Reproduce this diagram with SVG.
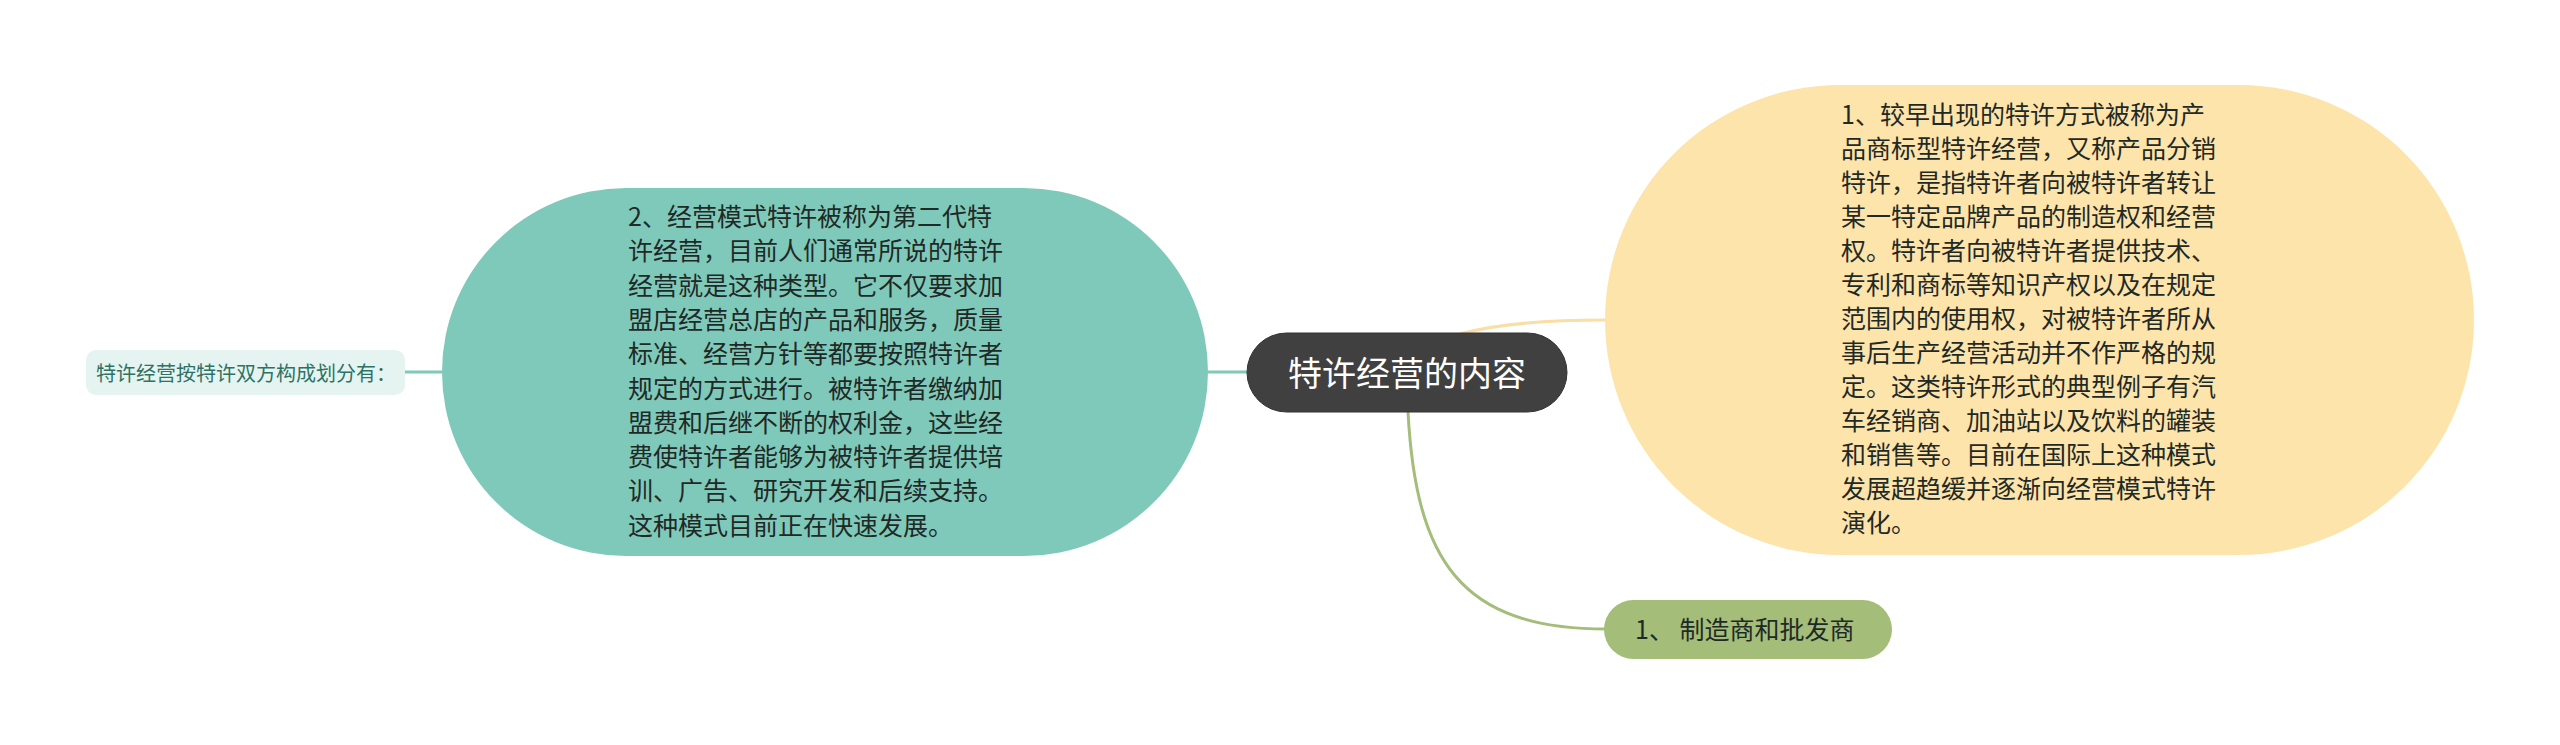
<svg xmlns="http://www.w3.org/2000/svg" width="2560" height="745" viewBox="0 0 2560 745">
<style>
text { font-family: "Noto Sans CJK SC", "Liberation Sans", sans-serif; }
.body { font-size: 25px; fill: #1f2a27; }
.conn { fill: none; stroke-width: 3; }
</style>
<rect width="2560" height="745" fill="#ffffff"/>
<g id="connectors">
  <path class="conn" d="M405 372 L442 372" stroke="#7fc9ba"/>
  <path class="conn" d="M1208 372 L1247 372" stroke="#7fc9ba"/>
  <path class="conn" d="M1460 334 C1500 323 1550 320 1606 320" stroke="#f9dea6"/>
  <path class="conn" d="M1408 412 C1416 560 1460 629 1606 629" stroke="#a4bd78"/>
</g>
<g id="node-left-label">
  <rect x="86" y="350" width="319" height="45" rx="10" fill="#e5f4f0"/>
  <text x="96" y="381" font-size="20" fill="#2e7266">特许经营按特许双方构成划分有：</text>
</g>
<g id="node-teal">
  <rect x="442" y="188" width="766" height="368" rx="184" fill="#7fc9ba"/>
  <text class="body">
    <tspan x="628" y="226">2、经营模式特许被称为第二代特</tspan>
    <tspan x="628" y="260.3">许经营，目前人们通常所说的特许</tspan>
    <tspan x="628" y="294.6">经营就是这种类型。它不仅要求加</tspan>
    <tspan x="628" y="328.9">盟店经营总店的产品和服务，质量</tspan>
    <tspan x="628" y="363.2">标准、经营方针等都要按照特许者</tspan>
    <tspan x="628" y="397.5">规定的方式进行。被特许者缴纳加</tspan>
    <tspan x="628" y="431.8">盟费和后继不断的权利金，这些经</tspan>
    <tspan x="628" y="466.1">费使特许者能够为被特许者提供培</tspan>
    <tspan x="628" y="500.4">训、广告、研究开发和后续支持。</tspan>
    <tspan x="628" y="534.7">这种模式目前正在快速发展。</tspan>
  </text>
</g>
<g id="node-center">
  <rect x="1247" y="333" width="320" height="79" rx="39.5" fill="#404040" stroke="#333333" stroke-width="1"/>
  <text x="1407" y="386" font-size="34" fill="#ffffff" text-anchor="middle">特许经营的内容</text>
</g>
<g id="node-yellow">
  <rect x="1605" y="85" width="869" height="470" rx="235" fill="#fde4ab"/>
  <text class="body">
    <tspan x="1841" y="124">1、较早出现的特许方式被称为产</tspan>
    <tspan x="1841" y="158">品商标型特许经营，又称产品分销</tspan>
    <tspan x="1841" y="192">特许，是指特许者向被特许者转让</tspan>
    <tspan x="1841" y="226">某一特定品牌产品的制造权和经营</tspan>
    <tspan x="1841" y="260">权。特许者向被特许者提供技术、</tspan>
    <tspan x="1841" y="294">专利和商标等知识产权以及在规定</tspan>
    <tspan x="1841" y="328">范围内的使用权，对被特许者所从</tspan>
    <tspan x="1841" y="362">事后生产经营活动并不作严格的规</tspan>
    <tspan x="1841" y="396">定。这类特许形式的典型例子有汽</tspan>
    <tspan x="1841" y="430">车经销商、加油站以及饮料的罐装</tspan>
    <tspan x="1841" y="464">和销售等。目前在国际上这种模式</tspan>
    <tspan x="1841" y="498">发展超趋缓并逐渐向经营模式特许</tspan>
    <tspan x="1841" y="532">演化。</tspan>
  </text>
</g>
<g id="node-green">
  <rect x="1604" y="600" width="288" height="59" rx="29.5" fill="#a4bd78"/>
  <text x="1635" y="639" class="body">1、 制造商和批发商</text>
</g>
</svg>
